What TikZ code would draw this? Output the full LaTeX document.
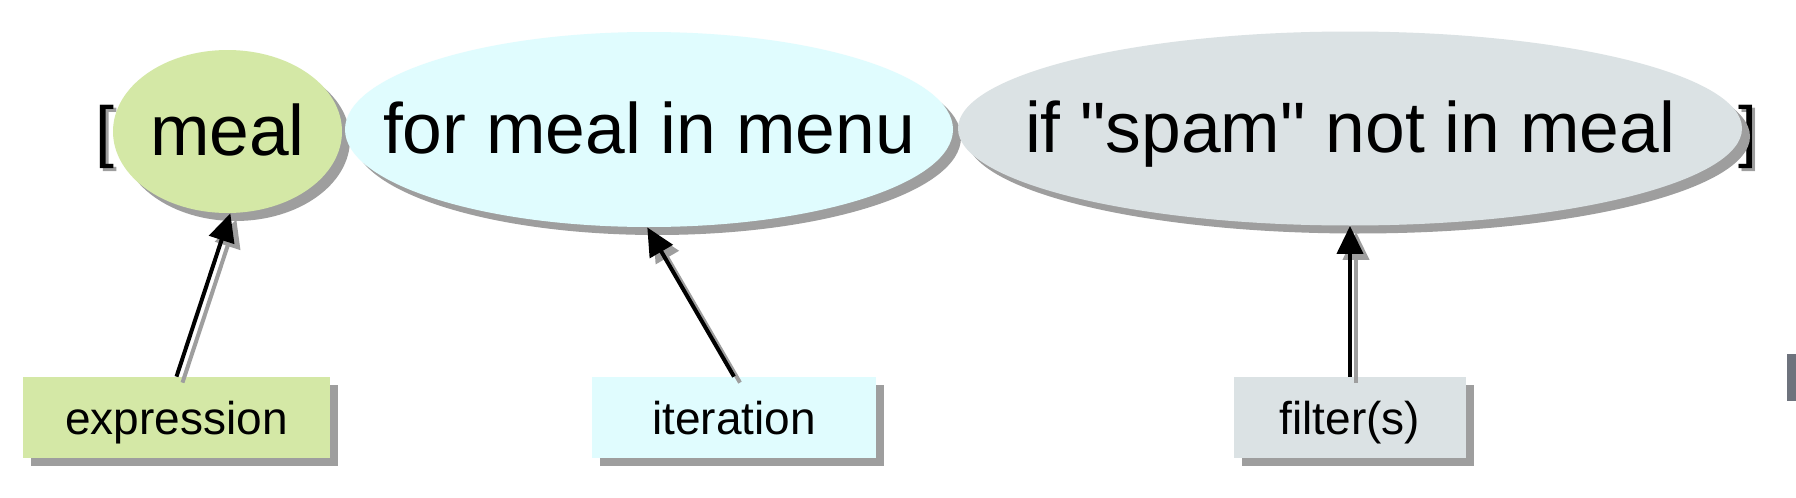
\documentclass[tikz,border=0pt]{standalone}
\usepackage{fontspec}
\setmainfont{Liberation Sans}[Ligatures=TeXOff]
\usetikzlibrary{shapes.geometric,shadows,arrows.meta}
\definecolor{cgreen}{RGB}{212,232,166}
\definecolor{cblue}{RGB}{224,252,254}
\definecolor{cgrey}{RGB}{219,226,228}
\definecolor{cshadow}{RGB}{158,158,158}
\definecolor{cedge}{RGB}{110,115,125}
\tikzset{
  shad/.style={drop shadow={shadow xshift=4pt,shadow yshift=-4pt,fill=cshadow,opacity=1}},
  bubble/.style={ellipse, inner sep=0pt, shad, font=\fontsize{35.7}{42}\selectfont, text height=28pt, text depth=4pt},
  tag/.style={rectangle, inner sep=0pt, shad, minimum height=40.5pt, font=\fontsize{23}{27}\selectfont, text height=19.5pt, text depth=3pt},
  arr/.style={line width=2pt, -{Triangle[length=14pt,width=13pt]}},
  arrshadow/.style={arr, draw=cshadow, fill=cshadow, transform canvas={shift={(3pt,-3pt)}}},
  brk/.style={font=\fontsize{34}{40}\selectfont, inner sep=0pt},
}
\begin{document}
\begin{tikzpicture}[x=0.5pt,y=-0.5pt]
\useasboundingbox[fill=white] (0,0) rectangle (1796,498);

% brackets
\node[brk, text=cshadow, anchor=base west] (lbs) at (98,157) {[};
\node[brk, anchor=base west] (lb) at (95,154) {[};
\node[brk, text=cshadow, anchor=base east] (rbs) at (1761,157) {]};
\node[brk, anchor=base east] (rb) at (1758,154) {]};

% bubbles
\node[bubble, fill=cgreen, minimum width=114.5pt, minimum height=81.5pt] (meal) at (227.5,131.5) {\makebox[0pt]{meal}};
\node[bubble, fill=cblue, minimum width=304pt, minimum height=97.5pt] (iter) at (649,129.5) {\makebox[0pt]{for meal in menu}};
\node[bubble, fill=cgrey, minimum width=392pt, minimum height=97pt] (filt) at (1350,128.5) {\makebox[0pt]{if "spam" not in meal}};

% tags
\node[tag, fill=cgreen, minimum width=153.5pt] (texpr) at (176.5,417.5) {expression};
\node[tag, fill=cblue, minimum width=142pt] (titer) at (734,417.5) {iteration};
\node[tag, fill=cgrey, minimum width=116pt] (tfilt) at (1350,417.5) {filter(s)};

% arrows
\draw[arrshadow] (texpr.north) -- (meal.-88);
\draw[arr] (texpr.north) -- (meal.-88);
\draw[arrshadow] (titer.north) -- (iter.-91);
\draw[arr] (titer.north) -- (iter.-91);
\draw[arrshadow] (tfilt.north) -- (filt.south);
\draw[arr] (tfilt.north) -- (filt.south);

% cut-off element at the right edge
\fill[cedge] (1787,354) rectangle (1796,401);
\end{tikzpicture}
\end{document}
